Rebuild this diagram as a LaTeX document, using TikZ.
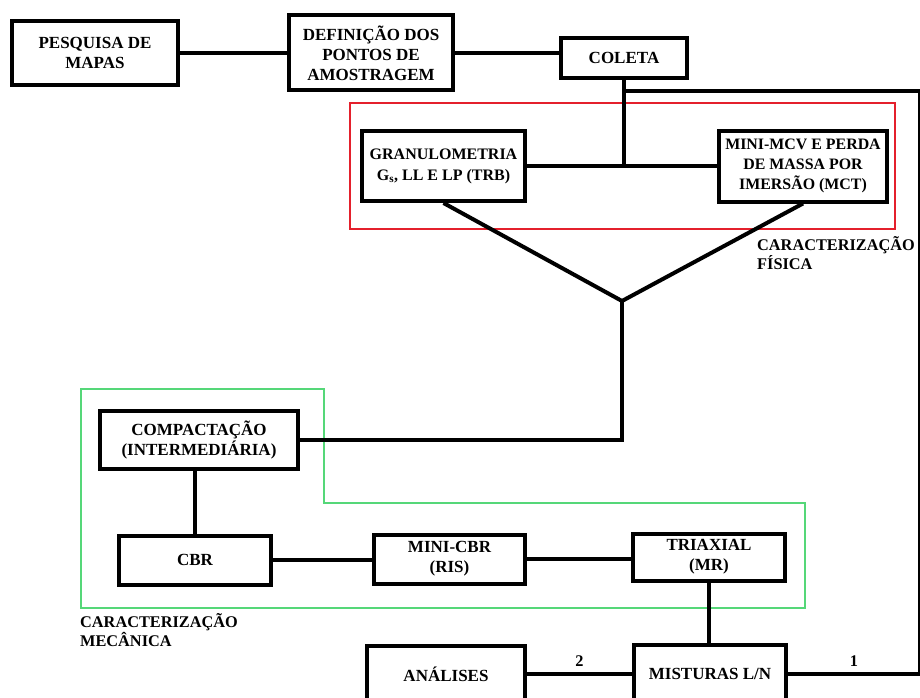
\documentclass[tikz,border=0pt]{standalone}
\usepackage{fontspec}
\setmainfont{Liberation Serif}
\definecolor{fisred}{RGB}{228,32,44}
\definecolor{mecgreen}{RGB}{85,215,120}
\tikzset{
    etapa/.style={draw, line width=4pt, align=center, inner sep=0pt,
        font=\bfseries\fontsize{17}{20}\selectfont},
    liga/.style={line width=4pt},
    grupo/.style={align=left, inner sep=0pt, anchor=north west,
        font=\bfseries\fontsize{16.3}{19}\selectfont}
}
\begin{document}
\begin{tikzpicture}[x=1pt, y=-1pt]
        \useasboundingbox (0,0) rectangle (920,698);
        \clip (0,0) rectangle (920,698);
        % grupos
        \draw[fisred, line width=1.3pt] (350,103) rectangle (895,229);
        \draw[mecgreen, line width=1.6pt] (81,389) -- (324,389) -- (324,503)
            -- (805,503) -- (805,608) -- (81,608) -- cycle;
        \node[grupo] (fisica) at (757,236) {CARACTERIZAÇÃO\\FÍSICA};
        \node[grupo] (mecanica) at (80,613) {CARACTERIZAÇÃO\\MECÂNICA};
        % etapas
        \node[etapa, minimum width=166, minimum height=64] (pesquisa) at (95,53) {PESQUISA DE\\MAPAS};
        \node[etapa, minimum width=164, minimum height=75] (definicao) at (371,53) {DEFINIÇÃO DOS\\PONTOS DE\\AMOSTRAGEM};
        \node[etapa, minimum width=126, minimum height=40] (coleta) at (624,58) {COLETA};
        \node[etapa, minimum width=163, minimum height=70,
            font=\bfseries\fontsize{16}{21}\selectfont] (granulo) at (443.5,166) {GRANULOMETRIA\\G\textsubscript{s}, LL E LP (TRB)};
        \node[etapa, minimum width=168, minimum height=71,
            font=\bfseries\fontsize{15.9}{20}\selectfont] (minimcv) at (803,166) {MINI-MCV E PERDA\\DE MASSA POR\\IMERSÃO (MCT)};
        \node[etapa, minimum width=198, minimum height=58] (compact) at (199,440) {COMPACTAÇÃO\\(INTERMEDIÁRIA)};
        \node[etapa, minimum width=152, minimum height=49] (cbr) at (195,560) {CBR};
        \node[etapa, minimum width=151, minimum height=49] (minicbr) at (449.5,559) {MINI-CBR\\(RIS)};
        \node[etapa, minimum width=152, minimum height=47] (triaxial) at (709,557) {TRIAXIAL\\(MR)};
        \node[etapa, minimum width=152, minimum height=58] (misturas) at (710,674) {MISTURAS L/N};
        \node[etapa, minimum width=158, minimum height=56] (analises) at (446,674) {ANÁLISES};
        % ligacoes
        \coordinate (apex) at (622,301);
        \coordinate (canto) at (920,91);
        \draw[liga] (pesquisa) -- (definicao);
        \draw[liga] (definicao.east) -- (definicao.east -| coleta.west);
        \draw[liga] (coleta.south) -- (coleta.south |- granulo.east);
        \draw[liga] (granulo.east) -- (minimcv.west);
        \draw[liga] (coleta.south |- canto) -- (canto) |- (misturas.east)
            node[pos=0.75, above=2pt, font=\bfseries\fontsize{16.3}{19}\selectfont] {1};
        \draw[liga] (granulo.south) -- (apex) -- (minimcv.south);
        \draw[liga] (apex) |- (compact.east);
        \draw[liga] (cbr.north |- compact.south) -- (cbr.north);
        \draw[liga] (cbr.east) -- (cbr.east -| minicbr.west);
        \draw[liga] (minicbr.east) -- (minicbr.east -| triaxial.west);
        \draw[liga] (triaxial.south) -- (triaxial.south |- misturas.north);
        \draw[liga] (analises.east) -- (misturas.west)
            node[midway, above=2pt, font=\bfseries\fontsize{16.3}{19}\selectfont] {2};
    \end{tikzpicture}
\end{document}
